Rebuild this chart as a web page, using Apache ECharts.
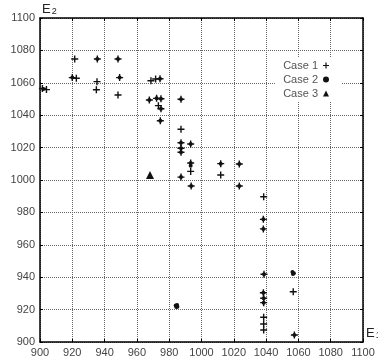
<!DOCTYPE html>
<html>
<head>
<meta charset="utf-8">
<script src="https://cdn.jsdelivr.net/npm/echarts@6/dist/echarts.min.js"></script>
<style>
  html, body { margin: 0; padding: 0; background: #fff; }
  #chart { width: 378px; height: 358px; }
</style>
</head>
<body>
<div id="chart"></div>
<script>
// axis ticks (E1 horizontal, E2 vertical)
const xTicks = [900, 920, 940, 960, 980, 1000, 1020, 1040, 1060, 1080, 1100];
const yTicks = [900, 920, 940, 960, 980, 1000, 1020, 1040, 1060, 1080, 1100];

// Case 1 : plus markers [E1, E2]
const case1 = [
  [901.5, 1056.5], [904, 1055.8], [921.5, 1074.7], [935.5, 1074.7], [948.3, 1074.7],
  [920, 1063.2], [922.5, 1062.8], [935.3, 1060.7], [934.9, 1055.7], [949.3, 1063.2],
  [948.3, 1052.5], [968.7, 1061.3], [971.6, 1062.3], [974.3, 1062.5], [967.7, 1049.4],
  [972.2, 1050.4], [974.9, 1050.2], [987.3, 1049.8], [973.3, 1045.9], [974.9, 1044],
  [974.5, 1036.6], [987.3, 1031.3], [987.3, 1023], [987.3, 1019.6], [987.3, 1017.1],
  [993.3, 1022.2], [993.3, 1010.5], [993.3, 1005.3], [987.3, 1001.8], [993.6, 996.3],
  [1011.9, 1010.1], [1011.9, 1003.1], [1023.4, 1009.9], [1023.4, 996.3], [1038.5, 989.7],
  [1038.3, 975.7], [1038.3, 969.8], [1038.7, 941.8], [1056.8, 931], [1038.3, 930.4],
  [1038.5, 927], [1038.5, 924.3], [1038.5, 915.3], [1038.5, 911.1], [1038.5, 907.4],
  [1057.5, 904.3]
];

// Case 2 : filled circles
const case2 = [
  [902, 1056.2], [935.5, 1074.7], [948.3, 1074.7], [920, 1063.2], [949.3, 1063.2],
  [974.3, 1062.5], [967.7, 1049.4], [972.2, 1050.4], [974.9, 1050.2], [987.3, 1049.8],
  [974.9, 1044], [974.5, 1036.6], [987.3, 1023], [987.3, 1019.6], [987.3, 1017.1],
  [993.3, 1022.2], [993.3, 1010.5], [993.3, 1008.8], [987.3, 1001.8], [993.6, 996.3],
  [1011.9, 1010.1], [1023.4, 1009.9], [1023.4, 996.3], [1038.3, 975.7], [1038.3, 969.8],
  [1038.7, 941.8], [1056.3, 943.2], [1057.2, 942.4], [1056.6, 942.0], [1038.3, 930.4],
  [1038.5, 927], [1038.5, 924.3], [1057.5, 904.3],
  [984.0, 922.6], [985.1, 921.8], [984.4, 921.6], [984.9, 922.8]
];

// Case 3 : triangles
const case3 = [
  [968.1, 1003.1]
];

const plusPath = 'path://M4,0 L6,0 L6,4 L10,4 L10,6 L6,6 L6,10 L4,10 L4,6 L0,6 L0,4 L4,4 Z';
const labelFont = 'Liberation Sans';

const chart = echarts.init(document.getElementById('chart'));

const gridLine = { show: true, lineStyle: { color: '#666', type: 'dotted', width: 1 } };
const frameLine = { show: true, onZero: false, lineStyle: { color: '#000', width: 1.5 } };
const inTick = { show: true, inside: true, length: 3, lineStyle: { color: '#000' } };
const tickLabel = { margin: 5, color: '#444', fontSize: 11, fontFamily: labelFont, formatter: (v) => String(v) };

const option = {
  animation: false,
  backgroundColor: '#fff',
  grid: { left: 40, right: 15, top: 18, bottom: 16 },
  xAxis: [
    {
      type: 'value', min: xTicks[0], max: xTicks[xTicks.length - 1], interval: 20,
      axisLine: frameLine, axisTick: inTick, splitLine: gridLine, axisLabel: tickLabel
    },
    {
      type: 'value', position: 'top', min: xTicks[0], max: xTicks[xTicks.length - 1], interval: 20,
      axisLine: frameLine, axisTick: inTick, splitLine: { show: false }, axisLabel: { show: false }
    }
  ],
  yAxis: [
    {
      type: 'value', min: yTicks[0], max: yTicks[yTicks.length - 1], interval: 20,
      axisLine: frameLine, axisTick: inTick, splitLine: gridLine, axisLabel: tickLabel
    },
    {
      type: 'value', position: 'right', min: yTicks[0], max: yTicks[yTicks.length - 1], interval: 20,
      axisLine: frameLine, axisTick: inTick, splitLine: { show: false }, axisLabel: { show: false }
    }
  ],
  legend: {
    orient: 'vertical',
    align: 'right',
    right: 36,
    top: 57,
    padding: [3, 13, 3, 8],
    itemGap: 3,
    itemWidth: 6,
    itemHeight: 6,
    backgroundColor: '#fff',
    textStyle: { color: '#555', fontSize: 11, fontFamily: labelFont },
    data: ['Case 1', 'Case 2', 'Case 3']
  },
  graphic: [
    {
      type: 'text', left: 42, top: 3,
      style: {
        text: '{e|E}{s|2}',
        rich: {
          e: { fontSize: 13, fontFamily: labelFont, fill: '#222' },
          s: { fontSize: 9, fontFamily: labelFont, fill: '#222', padding: [5, 0, 0, 1] }
        }
      }
    },
    {
      type: 'text', left: 366, top: 327,
      style: {
        text: '{e|E}{s|1}',
        rich: {
          e: { fontSize: 13, fontFamily: labelFont, fill: '#222' },
          s: { fontSize: 9, fontFamily: labelFont, fill: '#222', padding: [5, 0, 0, 1] }
        }
      }
    }
  ],
  series: [
    {
      name: 'Case 1', type: 'scatter', symbol: plusPath, symbolSize: 7,
      itemStyle: { color: '#111', opacity: 1 }, data: case1, z: 3
    },
    {
      name: 'Case 2', type: 'scatter', symbol: 'circle', symbolSize: 4,
      itemStyle: { color: '#111', opacity: 1 }, data: case2, z: 2
    },
    {
      name: 'Case 3', type: 'scatter', symbol: 'triangle', symbolSize: 8,
      itemStyle: { color: '#111', opacity: 1 }, data: case3, z: 2
    }
  ]
};

chart.setOption(option);
</script>
</body>
</html>
